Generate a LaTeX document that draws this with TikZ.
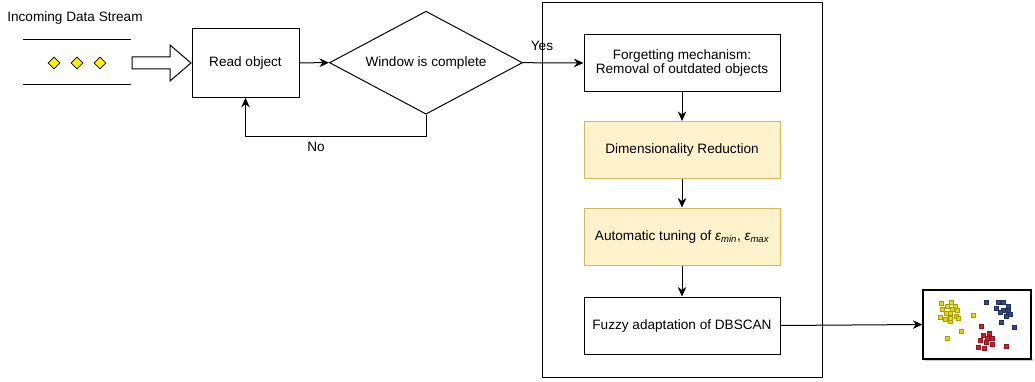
\documentclass[tikz,border=0pt]{standalone}
\usepackage{fontspec}
\setmainfont{Liberation Sans}
\usetikzlibrary{arrows.meta,shapes.geometric}
\definecolor{notefill}{HTML}{FFF2CC}
\definecolor{noteline}{HTML}{D6B656}
\definecolor{ptyellow}{HTML}{E8DA00}
\definecolor{ptyellowdk}{HTML}{A89C00}
\definecolor{ptblue}{HTML}{2F4A86}
\definecolor{ptbluedk}{HTML}{1E3060}
\definecolor{ptred}{HTML}{D0202E}
\definecolor{ptreddk}{HTML}{901520}
\tikzset{
  x=1pt, y=-1pt,
  every node/.style={font=\fontsize{13.6}{16}\selectfont},
  line/.style={line width=1pt, draw=black},
  flow/.style={line, -{Stealth[length=9.5pt,width=8.5pt,inset=3pt]}},
  procbox/.style={line, rectangle, fill=white, minimum width=196pt, minimum height=57pt, inner sep=0pt, align=center},
  notebox/.style={procbox, fill=notefill, draw=noteline},
  tok/.style={diamond, draw=black, line width=0.8pt, fill=yellow, minimum width=12pt, minimum height=12pt, inner sep=0pt},
  pty/.style={fill=ptyellow, draw=ptyellowdk, line width=0.5pt},
  ptb/.style={fill=ptblue, draw=ptbluedk, line width=0.5pt},
  ptr/.style={fill=ptred, draw=ptreddk, line width=0.5pt},
}
\newcommand{\scatterpt}[3]{\filldraw[#1] (#2-2,#3-2) rectangle (#2+2,#3+2);}
\begin{document}
\begin{tikzpicture}
\useasboundingbox (0,0) rectangle (1035,382);

% incoming stream
\node (title) at (75,18) {Incoming Data Stream};
\coordinate (s1a) at (23,40); \coordinate (s1b) at (131,40);
\coordinate (s2a) at (23,85); \coordinate (s2b) at (131,85);
\draw[line] (s1a) -- (s1b);
\draw[line] (s2a) -- (s2b);
\node[tok] (t1) at (54,63) {};
\node[tok] (t2) at (77,63) {};
\node[tok] (t3) at (100,63) {};

% hollow block arrow into the reader
\draw[line, fill=white] (132,57) -- (170,57) -- (170,45) -- (191,63) -- (170,81) -- (170,69) -- (132,69) -- cycle;

% reader and decision
\node[line, rectangle, minimum width=107pt, minimum height=69pt, inner sep=0pt] (read) at (245.5,62.8) {Read object};
\node[line, diamond, minimum width=193pt, minimum height=103pt, inner sep=0pt, aspect=1.87] (win) at (426,62.7) {Window is complete};
\draw[flow] (read.east) -- (win.west);
\coordinate (nocorner) at (426,137);
\coordinate (nocorner2) at (245.5,137);
\draw[flow] (win.south) -- (nocorner) -- (nocorner2) -- (read.south);
\node (no) at (316,147) {No};

% processing container
\node[line, rectangle, minimum width=280pt, minimum height=374pt, inner sep=0pt] (frame) at (682,190) {};

\node[procbox] (forget) at (682,63) {Forgetting mechanism:\\[-2pt]Removal of outdated objects};
\node[notebox] (dim) at (682,150) {Dimensionality Reduction};
\node[notebox] (tune) at (682,236.5) {Automatic tuning of \textit{ε\textsubscript{min}}, \textit{ε\textsubscript{max}}};
\node[procbox] (fuzzy) at (682,325.5) {Fuzzy adaptation of DBSCAN};

\draw[flow] (win.east) -- (forget.west);
\node (yes) at (542,46) {Yes};
\draw[flow] (forget.south) -- (dim.north);
\draw[flow] (dim.south) -- (tune.north);
\draw[flow] (tune.south) -- (fuzzy.north);

% clustering result
\fill[gray!40] (924.5,359) rectangle (1032.5,360.5);
\node[draw=black, line width=1.2pt, fill=white, rectangle, minimum width=108pt, minimum height=69pt, inner sep=0pt] (result) at (977,324.5) {};
\draw[flow] (fuzzy.east) -- (result.west);

% yellow cluster
\scatterpt{pty}{941}{303.7} \scatterpt{pty}{951.7}{302.7} \scatterpt{pty}{947.7}{306.7} \scatterpt{pty}{955.7}{306.3}
\scatterpt{pty}{942.7}{309.3} \scatterpt{pty}{952.3}{309.3} \scatterpt{pty}{957.3}{310.7} \scatterpt{pty}{946}{313.7}
\scatterpt{pty}{950.7}{313.7} \scatterpt{pty}{940.7}{317.3} \scatterpt{pty}{956.7}{316.7} \scatterpt{pty}{958.7}{318}
\scatterpt{pty}{945}{319.7} \scatterpt{pty}{950}{321} \scatterpt{pty}{950.7}{318} \scatterpt{pty}{973.7}{315.7}
\scatterpt{pty}{961.3}{331.3} \scatterpt{pty}{947.7}{338.7}
% blue cluster
\scatterpt{ptb}{986.7}{302.7} \scatterpt{ptb}{998.7}{302.7} \scatterpt{ptb}{1003.7}{302.7} \scatterpt{ptb}{996}{308}
\scatterpt{ptb}{1008.7}{306.3} \scatterpt{ptb}{1003.3}{310} \scatterpt{ptb}{1008.3}{311} \scatterpt{ptb}{1000}{312.7}
\scatterpt{ptb}{1010.7}{314.3} \scatterpt{ptb}{1006}{316} \scatterpt{ptb}{1001.3}{322.3} \scatterpt{ptb}{1014}{327.7}
% red cluster
\scatterpt{ptr}{981.7}{326.3} \scatterpt{ptr}{989.3}{333} \scatterpt{ptr}{983}{335} \scatterpt{ptr}{987.7}{338.3}
\scatterpt{ptr}{992}{338} \scatterpt{ptr}{980.3}{340.7} \scatterpt{ptr}{986.3}{342.3} \scatterpt{ptr}{992.3}{344}
\scatterpt{ptr}{978.7}{347.3} \scatterpt{ptr}{984.7}{348} \scatterpt{ptr}{1006.7}{346.3}
\end{tikzpicture}
\end{document}
